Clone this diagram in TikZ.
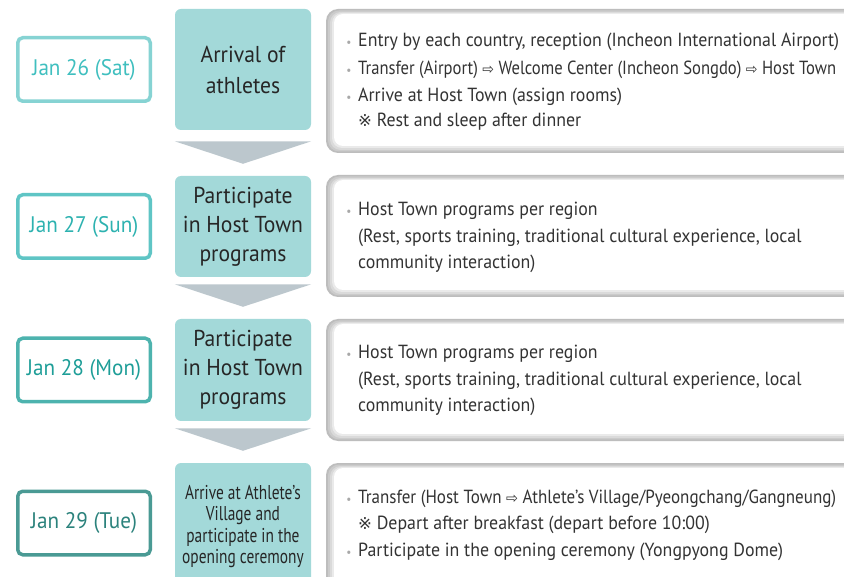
\documentclass[tikz,border=0pt]{standalone}
\usepackage{fontspec}
\usepackage{graphicx}
\setmainfont{PT Sans}[FakeStretch=0.94]
\newfontfamily\symfont{DejaVu Sans}
\newfontfamily\condfont{PT Sans}[FakeStretch=0.77]
\usetikzlibrary{calc}
\definecolor{midfill}{HTML}{A3D9D9}
\definecolor{midtxt}{HTML}{262626}
\definecolor{arrowc}{HTML}{BCC7CD}
\definecolor{dA}{HTML}{86D3D3}\definecolor{tA}{HTML}{3FBFBF}
\definecolor{dB}{HTML}{5FC5C5}\definecolor{tB}{HTML}{2DB2B0}
\definecolor{dC}{HTML}{4DB3AE}\definecolor{tC}{HTML}{1E9E98}
\definecolor{dD}{HTML}{4A9A94}\definecolor{tD}{HTML}{2B827C}
\definecolor{bodytxt}{HTML}{333333}
\definecolor{bulletc}{HTML}{A8A8A8}
\definecolor{frA}{HTML}{BDBDBD}\definecolor{frB}{HTML}{CBCBCB}
\definecolor{frC}{HTML}{DADADA}\definecolor{frD}{HTML}{EAEAEA}
\newcommand\myarr{{\symfont\fontsize{15}{14}\selectfont ⇨}}
\newcommand\myrefmark{{\symfont\fontsize{16.5}{14}\selectfont ※}}
\newcommand\fitw[2]{\resizebox{#1}{\height}{#2}}
\tikzset{
  datebox/.style={draw, line width=3.5pt, rounded corners=5pt, fill=white,
    minimum width=132.5pt, minimum height=63.5pt, inner sep=0pt,
    font=\fontsize{22.5}{26}\selectfont},
  midbox/.style={fill=midfill, rounded corners=6pt, minimum width=136pt,
    inner sep=0pt, align=center, text=midtxt},
  bodyline/.style={anchor=base west, inner sep=0pt, text=bodytxt,
    font=\fontsize{19}{20}\selectfont},
  bul/.style={anchor=base, inner sep=0pt, text=bulletc,
    font=\fontsize{12}{14}\selectfont},
  chevron/.style={fill=arrowc},
}
\newcommand\panelframe[2]{%
  \fill[frA, rounded corners=12pt] (326,#1) rectangle (880,#2);
  \fill[frB, rounded corners=11pt] (328,#1+1.5) rectangle (880,#2-1.5);
  \fill[frC, rounded corners=10.5pt] (330,#1+3) rectangle (880,#2-3);
  \fill[frD, rounded corners=10pt] (332,#1+4) rectangle (880,#2-5);
  \fill[white, rounded corners=9pt] (334,#1+5) rectangle (880,#2-7);
}
\begin{document}
\begin{tikzpicture}[x=1pt,y=-1pt]
\useasboundingbox (0,0) rectangle (844,577);
\clip (0,0) rectangle (844,577);
\fill[white] (0,0) rectangle (844,577);

% date boxes
\node[datebox, draw=dA, text=tA] (d1) at (84,69.5) {Jan 26 (Sat)};
\node[datebox, draw=dB, text=tB] (d2) at (84,226.5) {Jan 27 (Sun)};
\node[datebox, draw=dC, text=tC] (d3) at (84,370) {Jan 28 (Mon)};
\node[datebox, draw=dD, text=tD] (d4) at (84,523) {Jan 29 (Tue)};

% middle boxes
\node[midbox, minimum height=121pt, font=\fontsize{23}{31}\selectfont] (m1) at (243,69.5) {Arrival of\\athletes};
\node[midbox, minimum height=101pt, font=\fontsize{23}{29}\selectfont] (m2) at (243,226.5) {Participate\\in Host Town\\programs};
\node[midbox, minimum height=102pt, font=\fontsize{23}{29}\selectfont] (m3) at (243,370) {Participate\\in Host Town\\programs};
\node[midbox, minimum height=127pt, font=\condfont\fontsize{20}{21.5}\selectfont] (m4) at (243,526.5) {Arrive at Athlete’s\\Village and\\participate in the\\opening ceremony};

% chevrons between middle boxes
\foreach \a/\b in {m1/m2, m2/m3, m3/m4}{
  \fill[chevron] ($(\b.north west)+(0,-34.5)$) -- ($(\b.north east)+(0,-34.5)$)
     -- ($(\b.north)+(0,-12)$) -- cycle;
}

% right panels
\panelframe{9}{153}
\panelframe{175}{297}
\panelframe{319}{441}
\panelframe{463}{610}

% panel 1
\node[bul] (b11) at (349,47) {•};
\node[bodyline] (t11) at (358,47) {Entry by each country, reception (Incheon International Airport)};
\node[bul] (b12) at (349,74.5) {•};
\node[bodyline] (t12) at (358,74.5) {\fitw{478pt}{Transfer (Airport) \myarr\ Welcome Center (Incheon Songdo) \myarr\ Host Town}};
\node[bul] (b13) at (349,102) {•};
\node[bodyline] (t13) at (358,102) {Arrive at Host Town (assign rooms)};
\node[bodyline] (t14) at (358,127) {\myrefmark\ Rest and sleep after dinner};

% panel 2
\node[bul] (b21) at (349,216) {•};
\node[bodyline] (t21) at (358,216) {Host Town programs per region};
\node[bodyline] (t22) at (358,243) {(Rest, sports training, traditional cultural experience, local};
\node[bodyline] (t23) at (358,269) {community interaction)};

% panel 3
\node[bul] (b31) at (349,359) {•};
\node[bodyline] (t31) at (358,359) {Host Town programs per region};
\node[bodyline] (t32) at (358,386) {(Rest, sports training, traditional cultural experience, local};
\node[bodyline] (t33) at (358,412) {community interaction)};

% panel 4
\node[bul] (b41) at (349,503) {•};
\node[bodyline] (t41) at (358,503) {\fitw{478pt}{Transfer (Host Town \myarr\ Athlete’s Village/Pyeongchang/Gangneung)}};
\node[bodyline] (t42) at (358,529) {\myrefmark\ Depart after breakfast (depart before 10:00)};
\node[bul] (b43) at (349,556) {•};
\node[bodyline] (t43) at (358,556) {Participate in the opening ceremony (Yongpyong Dome)};
\end{tikzpicture}
\end{document}
